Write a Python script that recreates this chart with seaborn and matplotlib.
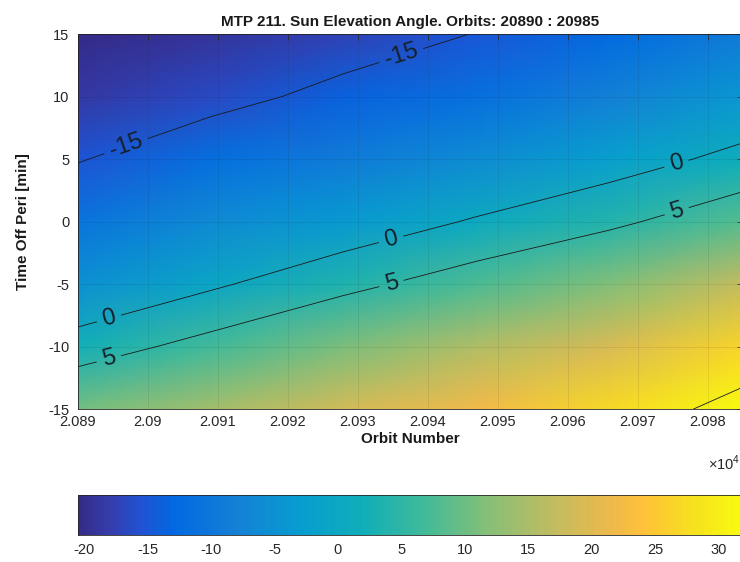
import numpy as np
import matplotlib
matplotlib.use("Agg")
import matplotlib.pyplot as plt
import seaborn as sns
from matplotlib.colors import LinearSegmentedColormap, Normalize
from matplotlib.ticker import FuncFormatter

# orbit columns and time-off-pericentre rows of the elevation grid
orbits = [20890, 20909, 20928, 20947, 20966, 20985]
time_off_peri = [-15, -10, -5, 0, 5, 10, 15]

# sun elevation angle [deg] per orbit column, values for time -15 .. 15 min
elev_20890 = [10.5, 2.4, -5.24, -10.6, -15.3, -18.6, -20.5]
elev_20909 = [14.5, 6.8, -0.76, -6.36, -11.6, -16.6, -19.2]
elev_20928 = [18.6, 11.15, 3.65, -3.37, -9.1, -13.6, -17.4]
elev_20947 = [22.0, 15.55, 7.6, 0.53, -5.93, -11.43, -14.85]
elev_20966 = [26.8, 19.4, 11.6, 3.98, -2.36, -8.1, -12.35]
elev_20985 = [31.9, 26.5, 17.2, 8.3, 1.43, -4.07, -9.1]

contour_levels = [-15, 0, 5, 30]
labelled_levels = [-15, 0, 5]
orbit_ticks = list(range(20890, 20981, 10))
time_ticks = [-15, -10, -5, 0, 5, 10, 15]
cbar_ticks = [-20, -15, -10, -5, 0, 5, 10, 15, 20, 25, 30]

# where MATLAB put the contour labels (orbit, min)
label_spots = [(20897.0, 5.9), (20936.0, 13.7),
               (20894.6, -8.0), (20934.9, -1.7), (20975.6, 4.5),
               (20894.6, -11.3), (20934.9, -5.1), (20975.6, 0.8)]

# MATLAB parula, subsampled
parula = LinearSegmentedColormap.from_list("parula", [
    (0 / 63, (0.208, 0.166, 0.529)),
    (3 / 63, (0.208, 0.239, 0.677)),
    (6 / 63, (0.125, 0.324, 0.830)),
    (9 / 63, (0.006, 0.409, 0.883)),
    (15 / 63, (0.078, 0.504, 0.838)),
    (21 / 63, (0.027, 0.614, 0.814)),
    (27 / 63, (0.059, 0.684, 0.725)),
    (33 / 63, (0.259, 0.732, 0.595)),
    (39 / 63, (0.530, 0.749, 0.466)),
    (45 / 63, (0.752, 0.738, 0.377)),
    (51 / 63, (0.945, 0.726, 0.289)),
    (54 / 63, (0.999, 0.765, 0.216)),
    (58 / 63, (0.963, 0.871, 0.131)),
    (63 / 63, (0.976, 0.983, 0.054)),
])

sns.set_theme(style="white")
plt.rcParams["font.family"] = ["Liberation Sans", "DejaVu Sans"]
plt.rcParams["axes.unicode_minus"] = False
plt.rcParams["mathtext.fontset"] = "custom"
plt.rcParams["mathtext.rm"] = "Liberation Sans"

ink = "#262626"
W, H = 740, 562
fig = plt.figure(figsize=(W / 100, H / 100), dpi=100)
ax = fig.add_axes([77.7 / W, 1 - 409.2 / H, 665 / W, 375 / H])
cax = fig.add_axes([77.7 / W, 27 / H, 665 / W, 40 / H])

elev = np.array([elev_20890, elev_20909, elev_20928,
                 elev_20947, elev_20966, elev_20985]).T
X, Y = np.meshgrid(orbits, time_off_peri)
norm = Normalize(elev.min(), elev.max())

mesh = ax.pcolormesh(X, Y, elev, shading="gouraud", cmap=parula, norm=norm)
cs = ax.contour(X, Y, elev, levels=contour_levels, colors="k",
                linewidths=0.6, negative_linestyles="solid")
ax.clabel(cs, levels=labelled_levels, inline=True, fmt="%g", fontsize=17,
          colors="#16202c", manual=label_spots, inline_spacing=6)

ax.set_xlim(20890, 20985)
ax.set_ylim(-15, 15)
ax.set_xticks(orbit_ticks)
ax.set_yticks(time_ticks)
ax.xaxis.set_major_formatter(FuncFormatter(lambda v, p: f"{v / 1e4:g}"))
ax.tick_params(direction="in", length=4, width=0.5, top=True, right=True,
               labelsize=10.5, colors=ink)
ax.tick_params(axis="x", pad=4)
ax.tick_params(axis="y", pad=6)
ax.grid(True, color="k", alpha=0.12, linewidth=0.5)
ax.set_axisbelow(False)
for sp in ax.spines.values():
    sp.set_linewidth(0.6)
    sp.set_color(ink)

ax.set_title("MTP 211. Sun Elevation Angle. Orbits: 20890 : 20985",
             fontsize=11, fontweight="bold", color="#1a1a1a", pad=6)
ax.set_xlabel("Orbit Number", fontsize=11, fontweight="bold", color="#1a1a1a", labelpad=2)
ax.set_ylabel("Time Off Peri [min]", fontsize=11, fontweight="bold", color="#1a1a1a", labelpad=13)
ax.text(0.997, -0.145, r"$\times10^{4}$", transform=ax.transAxes,
        ha="right", va="center", fontsize=10.5, color=ink)

cb = fig.colorbar(mesh, cax=cax, orientation="horizontal", ticks=cbar_ticks)
cax.tick_params(direction="in", length=4, width=0.5, labelsize=10.5,
                colors=ink, pad=6)
cb.outline.set_linewidth(0.6)
cb.outline.set_edgecolor(ink)

fig.savefig("out.png", dpi=100)
